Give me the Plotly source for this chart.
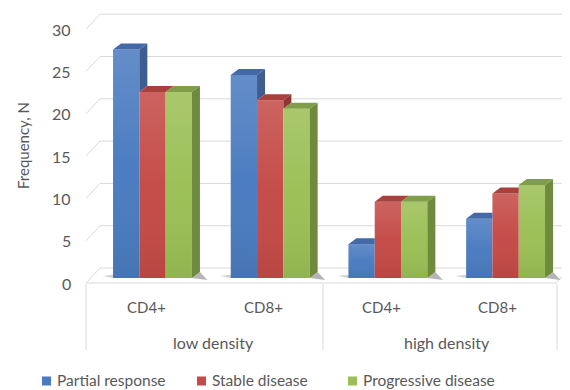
import plotly.graph_objects as go

# ---------------- data ----------------
groups = ["low density", "high density"]
subcats = ["CD4+", "CD8+", "CD4+", "CD8+"]
series = ["Partial response", "Stable disease", "Progressive disease"]
partial_response = [27, 24, 4, 7]
stable_disease = [22, 21, 9, 10]
progressive_disease = [22, 20, 9, 11]
y_ticks = [0, 5, 10, 15, 20, 25, 30]

values = [partial_response, stable_disease, progressive_disease]

# ---------------- styling ----------------
front_col = ["#4A7BC0", "#C44A46", "#9BBF55"]
side_col = ["#3D5E8F", "#8E3734", "#6E8A3C"]
top_col = ["#4369A6", "#A8403D", "#7F9E47"]
txt = "#595959"
grid = "#D9D9D9"
FONT = "Lato"

PAGE_OFF = 8                   # default body margin of the html page
W, H = 570 - PAGE_OFF, 390 - PAGE_OFF
# page pixel <-> data conversion for the full-figure plot area
GX0, GSTEP = 152.5, 117.7     # page pixel of group 0 centre, pixels per group
Y0, YS = 278.0, 8.46          # page pixel of zero (bar front), pixels per unit


def px2x(px):
    return (px - GX0) / GSTEP


def py2y(py):
    return (Y0 - py) / YS


BW = 26.3 / GSTEP              # bar width in x units
DX = 8.0 / GSTEP               # depth offset x
DY = 6.0 / YS                  # depth offset y
offsets = [-BW, 0.0, BW]

fig = go.Figure()

# front faces as bars
for j, name in enumerate(series):
    fig.add_trace(go.Bar(
        x=[i + offsets[j] for i in range(len(subcats))],
        y=values[j], width=BW, name=name,
        marker=dict(color=front_col[j], line=dict(width=0)),
        showlegend=False, hovertemplate=name + ": %{y}<extra></extra>"))

# gradient sheen over front faces
for j in range(3):
    for i in range(len(subcats)):
        v = values[j][i]
        xl = i + offsets[j] - BW / 2
        xr = i + offsets[j] + BW / 2
        fig.add_trace(go.Scatter(
            x=[xl, xr, xr, xl, xl], y=[0, 0, v, v, 0], mode="none",
            fill="toself",
            fillgradient=dict(type="vertical",
                              colorscale=[[0, "rgba(0,0,0,0.06)"],
                                          [0.5, "rgba(255,255,255,0.02)"],
                                          [1, "rgba(255,255,255,0.14)"]]),
            showlegend=False, hoverinfo="skip"))

# side and top faces (clipped where the neighbouring bar hides them)
for j in range(3):
    sx, sy, tx, ty = [], [], [], []
    for i in range(len(subcats)):
        v = values[j][i]
        xl = i + offsets[j] - BW / 2
        xr = i + offsets[j] + BW / 2
        nxt = values[j + 1][i] if j < 2 else 0
        if v > nxt:
            sx += [xr, xr + DX, xr + DX, xr, xr, None]
            sy += [nxt, nxt + DY, v + DY, v, nxt, None]
        if j < 2 and nxt > v:
            tx += [xl, xr, xr, xl + DX, xl, None]
            ty += [v, v, v + DY, v + DY, v, None]
        else:
            tx += [xl, xr, xr + DX, xl + DX, xl, None]
            ty += [v, v, v + DY, v + DY, v, None]
    fig.add_trace(go.Scatter(x=sx, y=sy, mode="none", fill="toself",
                             fillcolor=side_col[j], showlegend=False,
                             hoverinfo="skip"))
    fig.add_trace(go.Scatter(x=tx, y=ty, mode="none", fill="toself",
                             fillcolor=top_col[j], showlegend=False,
                             hoverinfo="skip"))

shapes = []
WALL_L, WALL_R = 100, 568
FRONT_L, FRONT_R = 86, 556
for t in y_ticks:
    yw = py2y(268 - YS * t)
    yf = py2y(283 - YS * t)
    shapes.append(dict(type="line", xref="x", yref="y", layer="below",
                       x0=px2x(WALL_L), x1=px2x(WALL_R), y0=yw, y1=yw,
                       line=dict(color=grid, width=1)))
    shapes.append(dict(type="line", xref="x", yref="y", layer="below",
                       x0=px2x(FRONT_L), x1=px2x(WALL_L), y0=yf, y1=yw,
                       line=dict(color=grid, width=1)))
# floor front edge and right edge
shapes.append(dict(type="line", xref="x", yref="y", layer="below",
                   x0=px2x(FRONT_L), x1=px2x(FRONT_R),
                   y0=py2y(283), y1=py2y(283), line=dict(color=grid, width=1)))
shapes.append(dict(type="line", xref="x", yref="y", layer="below",
                   x0=px2x(FRONT_R), x1=px2x(570),
                   y0=py2y(283), y1=py2y(268), line=dict(color=grid, width=1)))
# floor shadows
for i in range(len(subcats)):
    xr = i + offsets[2] + BW / 2
    xl = i + offsets[0] - BW / 2
    shapes.append(dict(type="path", xref="x", yref="y", layer="below",
                       path=f"M{xr},{0} L{xr + px2x(168) - px2x(152.5)},{py2y(280)} "
                            f"L{xr + DX},{DY} Z",
                       fillcolor="rgba(70,70,70,0.4)", line=dict(width=0)))
    shapes.append(dict(type="path", xref="x", yref="y", layer="below",
                       path=f"M{xl},{0} L{xl - (px2x(163) - px2x(152.5))},{py2y(276)} "
                            f"L{xl + DX * 0.3},{DY * 0.6} Z",
                       fillcolor="rgba(70,70,70,0.25)", line=dict(width=0)))

# category axis dividers
for px in [86, 323, 557]:
    shapes.append(dict(type="line", xref="x", yref="y", layer="below",
                       x0=px2x(px), x1=px2x(px), y0=py2y(284), y1=py2y(350),
                       line=dict(color=grid, width=1)))

annotations = []
for t in y_ticks:
    annotations.append(dict(x=px2x(73), y=py2y(283 - YS * t), xref="x", yref="y",
                            text=str(t), showarrow=False, xanchor="right",
                            yanchor="middle",
                            font=dict(family=FONT, size=16, color=txt)))
cat_px = [146, 263, 381, 497]
for k, lab in enumerate(subcats):
    annotations.append(dict(x=px2x(cat_px[k]), y=py2y(307), xref="x", yref="y",
                            text=lab, showarrow=False, xanchor="center",
                            yanchor="middle",
                            font=dict(family=FONT, size=15, color=txt)))
grp_px = [213, 447]
for k, lab in enumerate(groups):
    annotations.append(dict(x=px2x(grp_px[k]), y=py2y(342), xref="x", yref="y",
                            text=lab, showarrow=False, xanchor="center",
                            yanchor="middle",
                            font=dict(family=FONT, size=16, color=txt)))
annotations.append(dict(x=px2x(23), y=py2y(146), xref="x", yref="y",
                        text="Frequency, N", textangle=-90, showarrow=False,
                        font=dict(family=FONT, size=15, color=txt)))

# legend (manual)
LEG_Y = 380
leg_sq = [46.5, 201.5, 352.5]
for j, name in enumerate(series):
    fig.add_trace(go.Scatter(x=[px2x(leg_sq[j])], y=[py2y(LEG_Y + 1)],
                             mode="markers",
                             marker=dict(symbol="square", size=9,
                                         color=front_col[j]),
                             showlegend=False, hoverinfo="skip"))
    annotations.append(dict(x=px2x(leg_sq[j] + 8), y=py2y(LEG_Y), xref="x",
                            yref="y", text=name, showarrow=False,
                            xanchor="left", yanchor="middle",
                            font=dict(family=FONT, size=15.5, color=txt)))

fig.update_layout(
    width=W, height=H, margin=dict(l=0, r=0, t=0, b=0),
    paper_bgcolor="white", plot_bgcolor="white",
    xaxis=dict(range=[px2x(PAGE_OFF), px2x(PAGE_OFF + W)], visible=False,
               fixedrange=True),
    yaxis=dict(range=[py2y(PAGE_OFF + H), py2y(PAGE_OFF)], visible=False,
               fixedrange=True),
    barmode="overlay", shapes=shapes, annotations=annotations,
    showlegend=False,
)

fig.write_html("out.html")
